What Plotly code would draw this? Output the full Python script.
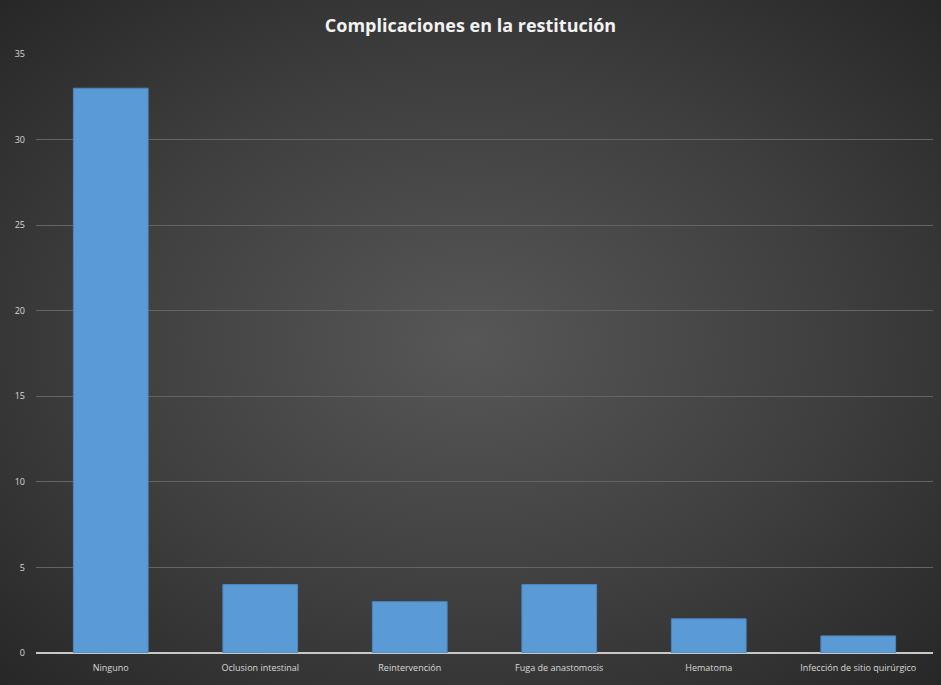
import base64
import plotly.graph_objects as go

categories = ["Ninguno", "Oclusion intestinal", "Reintervención", "Fuga de anastomosis",
              "Hematoma", "Infección de sitio quirúrgico"]
values = [33, 4, 3, 4, 2, 1]
y_ticks = [0, 5, 10, 15, 20, 25, 30, 35]

W, H = 941, 685
L, R, T, B = 36, 8, 54, 32
PW, PH = W - L - R, H - T - B

svg = (
    '<svg xmlns="http://www.w3.org/2000/svg" width="941" height="685" viewBox="0 0 100 100" '
    'preserveAspectRatio="none"><defs><radialGradient id="g" cx="50%" cy="50%" r="72%">'
    '<stop offset="0" stop-color="#575757"/><stop offset="0.55" stop-color="#3e3e3e"/>'
    '<stop offset="1" stop-color="#262626"/></radialGradient></defs>'
    '<rect x="0" y="0" width="100" height="100" fill="url(#g)"/></svg>'
)
bg_src = "data:image/svg+xml;base64," + base64.b64encode(svg.encode()).decode()

fig = go.Figure()
fig.add_trace(go.Bar(
    x=categories, y=values, width=0.5,
    marker=dict(color="#5B9BD5", line=dict(color="#4a86c0", width=1)),
))

fig.update_layout(
    width=W, height=H,
    paper_bgcolor="#333333", plot_bgcolor="rgba(0,0,0,0)",
    margin=dict(l=L, r=R, t=T, b=B, pad=0),
    images=[dict(source=bg_src, xref="paper", yref="paper", x=-L/PW, y=1 + T/PH,
                 sizex=W/PW, sizey=H/PH, xanchor="left", yanchor="top",
                 sizing="stretch", layer="below")],
    title=dict(text="<b>Complicaciones en la restitución</b>", x=0.5, xanchor="center",
               y=1 - 26/H, yanchor="middle",
               font=dict(family="Open Sans", size=18, color="#f2f2f2")),
    showlegend=False,
    font=dict(family="Open Sans", size=9, color="#d9d9d9"),
)
fig.update_xaxes(showgrid=False, tickfont=dict(size=9, color="#d9d9d9"), ticks="",
                 showline=False, ticklabelstandoff=8)
fig.update_yaxes(range=[0, 35], tickvals=y_ticks, showgrid=True, gridcolor="#646464",
                 gridwidth=1, zeroline=True, zerolinecolor="#c8c8c8", zerolinewidth=1.5,
                 tickfont=dict(size=9, color="#d9d9d9"), ticks="", ticklabelstandoff=10)

fig.write_html("out.html", config={"displayModeBar": False},
               post_script="document.body.style.margin='0';")
